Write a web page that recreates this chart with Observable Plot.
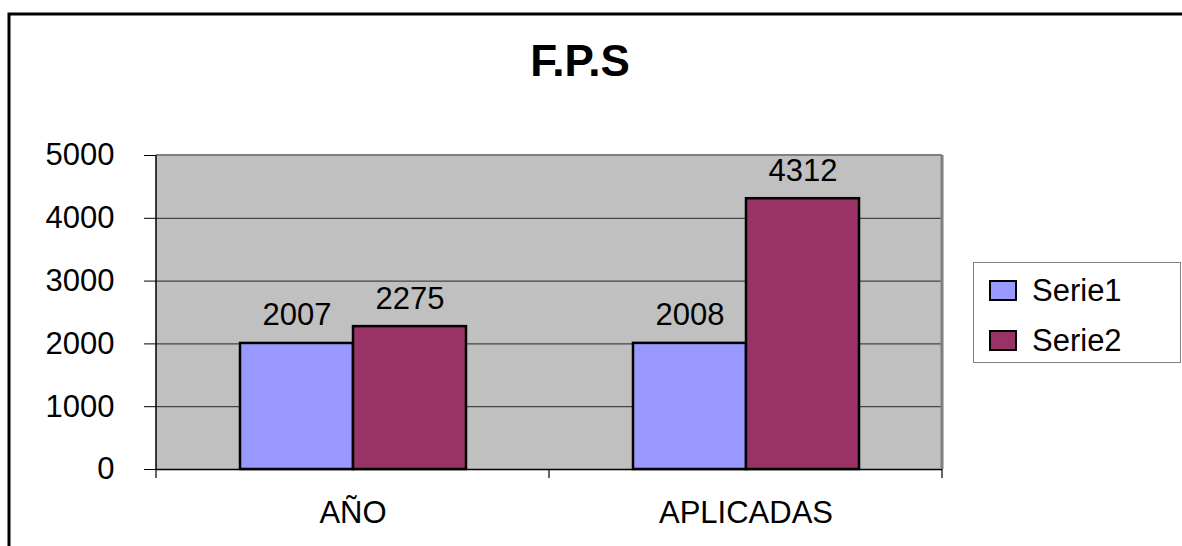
<!DOCTYPE html>
<html>
<head>
<meta charset="utf-8">
<script src="https://cdn.jsdelivr.net/npm/d3@7"></script>
<script src="https://cdn.jsdelivr.net/npm/@observablehq/plot@0.6"></script>
<style>
  html, body { margin: 0; padding: 0; background: #fff; }
  #chart { width: 1182px; height: 546px; overflow: hidden; }
</style>
</head>
<body>
<div id="chart"></div>
<script>
const title = "F.P.S";
const categories = ["AÑO", "APLICADAS"];
const series = ["Serie1", "Serie2"];
const serie1 = [2007, 2008];
const serie2 = [2275, 4312];
const yTicks = [0, 1000, 2000, 3000, 4000, 5000];
const colors = ["#9999FF", "#993366"];

const values = [serie1, serie2];
const rows = categories.flatMap((c, i) =>
  series.map((s, j) => ({cat: c, s, v: values[j][i]}))
);

const FONT = "'Liberation Sans', Arial, sans-serif";
const FS = 31;

const plot = Plot.plot({
  width: 1182,
  height: 546,
  marginLeft: 155,
  marginRight: 240,
  marginTop: 155,
  marginBottom: 77,
  style: {fontFamily: FONT, fontSize: FS + "px", color: "black", background: "transparent"},
  fx: {domain: categories, padding: 0, axis: "bottom", tickSize: 0, tickPadding: 31, label: null},
  x: {domain: series, paddingInner: 0, paddingOuter: 0.726, axis: null},
  y: {domain: [0, 5000], ticks: yTicks, tickSize: 12, tickPadding: 30, tickFormat: "d", label: null},
  color: {domain: series, range: colors},
  marks: [
    Plot.frame({fill: "#C0C0C0", stroke: null, inset: -0.6}),
    Plot.ruleY(yTicks.filter(d => d > 0 && d < 5000), {stroke: "#444", strokeWidth: 1.2}),
    Plot.barY(rows, {fx: "cat", x: "s", y: "v", fill: "s", stroke: "black", strokeWidth: 2.5}),
    Plot.text(rows, {fx: "cat", x: "s", y: "v", text: d => String(d.v), lineAnchor: "bottom", dy: -18, fontSize: FS, fill: "black"}),
    Plot.ruleY([0], {stroke: "black", strokeWidth: 1.5})
  ]
});

document.getElementById("chart").appendChild(plot);

(function () {
  const svg = d3.select(plot);
  const fx = plot.scale("fx");
  const y = plot.scale("y");
  const x0 = fx.apply(categories[0]);
  const x1 = fx.apply(categories[categories.length - 1]) + fx.bandwidth;
  const y0 = y.apply(5000);
  const y1 = y.apply(0);

  // plot-area borders
  svg.append("line").attr("x1", x0).attr("x2", x1).attr("y1", y0).attr("y2", y0)
    .attr("stroke", "#808080").attr("stroke-width", 2);
  svg.append("line").attr("x1", x1).attr("x2", x1).attr("y1", y0).attr("y2", y1)
    .attr("stroke", "#808080").attr("stroke-width", 3);
  svg.append("line").attr("x1", x0).attr("x2", x0).attr("y1", y0).attr("y2", y1)
    .attr("stroke", "black").attr("stroke-width", 1.5);

  // category boundary ticks
  const bounds = categories.map(c => fx.apply(c)).concat([x1]);
  svg.selectAll("line.btick").data(bounds).join("line")
    .attr("class", "btick")
    .attr("x1", d => d).attr("x2", d => d)
    .attr("y1", y1).attr("y2", y1 + 9)
    .attr("stroke", "black").attr("stroke-width", 1.2);

  // chart border
  svg.append("rect").attr("x", 9).attr("y", 14).attr("width", 1300).attr("height", 700)
    .attr("fill", "none").attr("stroke", "black").attr("stroke-width", 3);

  // title
  svg.append("text").attr("x", 580).attr("y", 76).attr("text-anchor", "middle")
    .attr("font-family", FONT).attr("font-weight", "bold").attr("font-size", 44)
    .text(title);

  // legend
  const lg = svg.append("g");
  lg.append("rect").attr("x", 973.5).attr("y", 262.5).attr("width", 207).attr("height", 100)
    .attr("fill", "white").attr("stroke", "#808080").attr("stroke-width", 1);
  series.forEach((s, i) => {
    const cy = 290 + i * 50;
    lg.append("rect").attr("x", 990).attr("y", cy - 9).attr("width", 26).attr("height", 19)
      .attr("fill", colors[i]).attr("stroke", "black").attr("stroke-width", 2);
    lg.append("text").attr("x", 1032).attr("y", cy + 11).attr("text-anchor", "start")
      .attr("font-family", FONT).attr("font-size", FS).text(s);
  });
})();
</script>
</body>
</html>
